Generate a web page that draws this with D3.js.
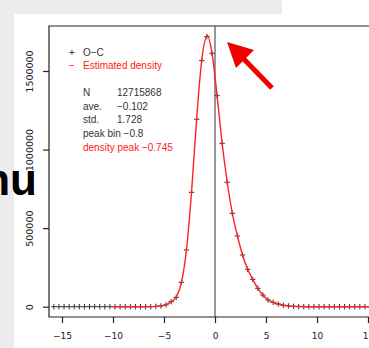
<!DOCTYPE html>
<html lang="en">
	<head>
		<meta charset="utf-8">
		<script src="https://d3js.org/d3.v7.min.js"></script>
		<style>
			body { margin: 0; background: #ececec; }
			svg { display: block; }
		</style>
	</head>
	<body>
		<div id="plotContent"></div>
		<script>
// bin centres (0.5 wide bins) and counts of O-C
var binCentres = [-15.8, -15.3, -14.8, -14.3, -13.8, -13.3, -12.8, -12.3, -11.8, -11.3,
	-10.8, -10.3, -9.8, -9.3, -8.8, -8.3, -7.8, -7.3, -6.8, -6.3,
	-5.8, -5.3, -4.8, -4.3, -3.8, -3.3, -2.8, -2.3, -1.8, -1.3,
	-0.8, -0.3, 0.2, 0.7, 1.2, 1.7, 2.2, 2.7, 3.2, 3.7,
	4.2, 4.7, 5.2, 5.7, 6.2, 6.7, 7.2, 7.7, 8.2, 8.7,
	9.2, 9.7, 10.2, 10.7, 11.2, 11.7, 12.2, 12.7, 13.2, 13.7,
	14.2, 14.7, 15.2];
var counts = [0, 0, 0, 0, 0, 0, 0, 0, 0, 0,
	0, 0, 0, 0, 0, 0, 0, 0, 0, 0,
	2000, 5000, 12000, 32000, 60000, 155000, 361000, 728000, 1193000, 1566000,
	1719000, 1613000, 1343000, 1040000, 792000, 594000, 450000, 329000, 238000, 174000,
	117000, 74000, 43000, 28000, 17000, 9000, 5000, 2000, 1000, 0,
	0, 0, 0, 0, 0, 0, 0, 0, 0, 0,
	0, 0, 0];

// estimated density (scaled to counts), drawn from -10 on
var densityX = [-10, -9, -8, -7, -6.3, -5.8, -5.3, -4.8, -4.3, -3.8, -3.3, -2.8, -2.3, -1.8,
	-1.3, -0.745, -0.3, 0.2, 0.7, 1.2, 1.7, 2.2, 2.7, 3.2, 3.7, 4.2, 4.7, 5.2, 5.7,
	6.2, 6.7, 7.2, 7.7, 8.2, 9, 10, 12, 14, 16];
var densityY = [0, 0, 0, 0, 500, 2000, 5000, 13000, 31000, 62000, 152000, 360000, 730000, 1195000,
	1570000, 1725000, 1615000, 1345000, 1040000, 792000, 594000, 450000, 329000, 238000, 174000, 117000, 74000, 43000, 28000,
	17000, 9000, 5000, 2000, 1000, 0, 0, 0, 0, 0];

var xTicks = [-15, -10, -5, 0, 5, 10, 15];
var yTicks = [0, 500000, 1000000, 1500000];

var legendItems = [
	{ sym: "+", label: "O\u2212C", col: "#333" },
	{ sym: "\u2212", label: "Estimated density", col: "#ff2020" }
];
var statRows = [
	{ k: "N", v: "12715868", col: "#333" },
	{ k: "ave.", v: "\u22120.102", col: "#333" },
	{ k: "std.", v: "1.728", col: "#333" },
	{ k: "peak bin \u22120.8", v: "", col: "#333" },
	{ k: "density peak \u22120.745", v: "", col: "#ff2020" }
];

var width = 369, height = 348;

var svg = d3.select("#plotContent")
	.append("svg")
	.attr("width", width)
	.attr("height", height);

// slide background
svg.append("rect").attr("x", 0).attr("y", 0).attr("width", width).attr("height", height).attr("fill", "#ececec");
svg.append("rect").attr("x", 14).attr("y", 14).attr("width", width).attr("height", height).attr("fill", "#ffffff");
svg.append("rect").attr("x", 282).attr("y", 0).attr("width", 100).attr("height", 14).attr("fill", "#ffffff");

// big slide text cut off on the left
svg.append("text")
	.attr("x", 37)
	.attr("y", 195)
	.attr("text-anchor", "end")
	.style("font-family", "'Liberation Sans', Arial, sans-serif")
	.style("font-weight", "bold")
	.style("font-size", "44px")
	.attr("fill", "#000")
	.text("nu");

var x = d3.scaleLinear().domain([-15, 15]).range([62, 368]);
var y = d3.scaleLinear().domain([0, 1500000]).range([306.7, 71]);

var box = { left: 49, top: 26, bottom: 317 };

// plot box
svg.append("path")
	.attr("d", "M400," + box.top + "H" + box.left + "V" + box.bottom + "H400")
	.attr("fill", "none")
	.attr("stroke", "#222")
	.attr("stroke-width", 1.2);

// X axis
var xAxis = svg.append("g")
	.attr("transform", "translate(0," + box.bottom + ")")
	.call(d3.axisBottom(x).tickValues(xTicks).tickSize(6).tickPadding(10)
		.tickFormat(function (d) { return d < 0 ? "\u2212" + Math.abs(d) : d; }));
xAxis.select(".domain").remove();
xAxis.selectAll("line").attr("stroke", "#222").attr("stroke-width", 1.2);
xAxis.selectAll("text")
	.style("font-family", "'DejaVu Sans', sans-serif")
	.style("font-size", "9px")
	.attr("fill", "#222");

// Y axis
var yAxis = svg.append("g")
	.attr("transform", "translate(" + box.left + ",0)")
	.call(d3.axisLeft(y).tickValues(yTicks).tickSize(6).tickFormat(d3.format("d")));
yAxis.select(".domain").remove();
yAxis.selectAll("line").attr("stroke", "#222").attr("stroke-width", 1.2);
yAxis.selectAll("text")
	.attr("x", 0).attr("y", 0)
	.attr("dy", "0.35em")
	.attr("text-anchor", "middle")
	.attr("transform", "translate(-19,0) rotate(-90)")
	.style("font-family", "'DejaVu Sans', sans-serif")
	.style("font-size", "9.5px")
	.attr("fill", "#222");

// vertical line at 0
svg.append("line")
	.attr("x1", x(0)).attr("x2", x(0))
	.attr("y1", box.top).attr("y2", box.bottom)
	.attr("stroke", "#333")
	.attr("stroke-width", 1);

// O-C points as plus markers
var pts = binCentres.map(function (b, i) { return [b, counts[i]]; });
svg.append("g")
	.selectAll("path")
	.data(pts)
	.enter()
	.append("path")
	.attr("d", function (p) {
		var cx = x(p[0]), cy = y(p[1]);
		return "M" + (cx - 2.7) + "," + cy + "H" + (cx + 2.7) + "M" + cx + "," + (cy - 2.7) + "V" + (cy + 2.7);
	})
	.attr("stroke", "#333")
	.attr("stroke-width", 1);

// estimated density
var dens = densityX.map(function (d, i) { return [d, densityY[i]]; });
svg.append("path")
	.datum(dens)
	.attr("d", d3.line()
		.x(function (p) { return x(p[0]); })
		.y(function (p) { return y(p[1]); })
		.curve(d3.curveMonotoneX))
	.attr("fill", "none")
	.attr("stroke", "#ff2020")
	.attr("stroke-width", 1.4);

// legend
var font = "'Liberation Sans', Arial, sans-serif";
legendItems.forEach(function (it, i) {
	svg.append("text")
		.attr("x", 72).attr("y", 56 + i * 13)
		.attr("text-anchor", "middle")
		.style("font-family", font).style("font-size", "10px")
		.attr("fill", it.col)
		.text(it.sym);
	svg.append("text")
		.attr("x", 83).attr("y", 56 + i * 13)
		.style("font-family", font).style("font-size", "10px")
		.attr("fill", it.col)
		.text(it.label);
});

statRows.forEach(function (r, i) {
	svg.append("text")
		.attr("x", 83).attr("y", 96 + i * 13.7)
		.style("font-family", font).style("font-size", "10px")
		.attr("fill", r.col)
		.text(r.k);
	if (r.v) {
		svg.append("text")
			.attr("x", 117).attr("y", 96 + i * 13.7)
			.style("font-family", font).style("font-size", "10px")
			.attr("fill", r.col)
			.text(r.v);
	}
});

// red arrow pointing at the peak
svg.append("line")
	.attr("x1", 272).attr("y1", 88)
	.attr("x2", 236).attr("y2", 51)
	.attr("stroke", "#f00000")
	.attr("stroke-width", 5);
svg.append("path")
	.attr("d", "M227,42 L254,50 L236,68 Z")
	.attr("fill", "#f00000");
		</script>
	</body>
</html>
